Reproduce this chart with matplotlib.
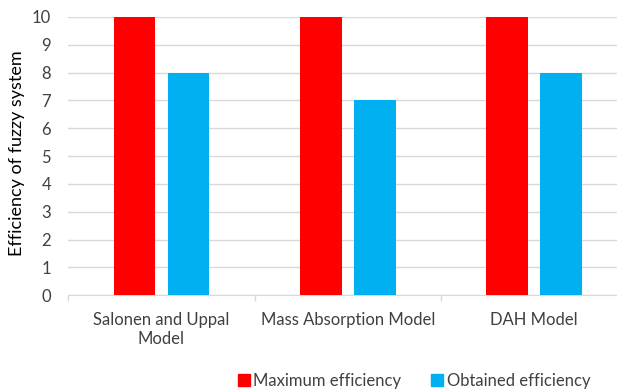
import matplotlib
matplotlib.use("Agg")
import matplotlib.pyplot as plt
import numpy as np
from matplotlib.patches import Patch

categories = ["Salonen and Uppal\nModel", "Mass Absorption Model", "DAH Model"]
max_eff = [10, 10, 10]
obtained_eff = [8, 7, 8]
series_names = ["Maximum efficiency", "Obtained efficiency"]
colors = ["#ff0000", "#00b0f0"]

plt.rcParams["font.family"] = ["Lato", "DejaVu Sans"]
text_color = "#404040"

fig = plt.figure(figsize=(6.17, 3.91), dpi=100)
ax = fig.add_axes([0.1107, 0.2448, 0.9062, 0.7118])

x = np.arange(len(categories))
w = 0.223
off = 0.145
ax.bar(x - off, max_eff, width=w, color=colors[0], zorder=3)
ax.bar(x + off, obtained_eff, width=w, color=colors[1], zorder=3)

ax.set_xlim(-0.5, len(categories) - 0.5)
ax.set_ylim(0, 10)
ax.set_yticks(range(0, 11))
ax.tick_params(axis="y", length=0, labelsize=12, colors=text_color, pad=12.5)
ax.yaxis.grid(True, color="#d9d9d9", linewidth=1, zorder=0)

ax.set_xticks(x)
ax.set_xticklabels(categories, fontsize=12, color=text_color)
ax.tick_params(axis="x", length=0, pad=12)
# category boundary ticks below the axis
ax.set_xticks(np.arange(-0.5, len(categories)), minor=True)
ax.tick_params(axis="x", which="minor", length=4.5, color="#d9d9d9", width=1)

for s in ["top", "right", "left"]:
    ax.spines[s].set_visible(False)
ax.spines["bottom"].set_color("#d9d9d9")

fig.text(17 / 617, 1 - 153 / 391, "Efficiency of fuzzy system", rotation=90,
         ha="center", va="center", fontsize=13, color="#000000")

handles = [Patch(color=c, label=n) for c, n in zip(colors, series_names)]
fig.legend(handles=handles, loc="center left", bbox_to_anchor=(238 / 617, 0.026),
           ncol=2, frameon=False, fontsize=12, handlelength=0.72, handleheight=0.72,
           handletextpad=0.2, columnspacing=1.8, borderpad=0, borderaxespad=0,
           labelcolor=text_color)

fig.savefig("out.png", dpi=100)
